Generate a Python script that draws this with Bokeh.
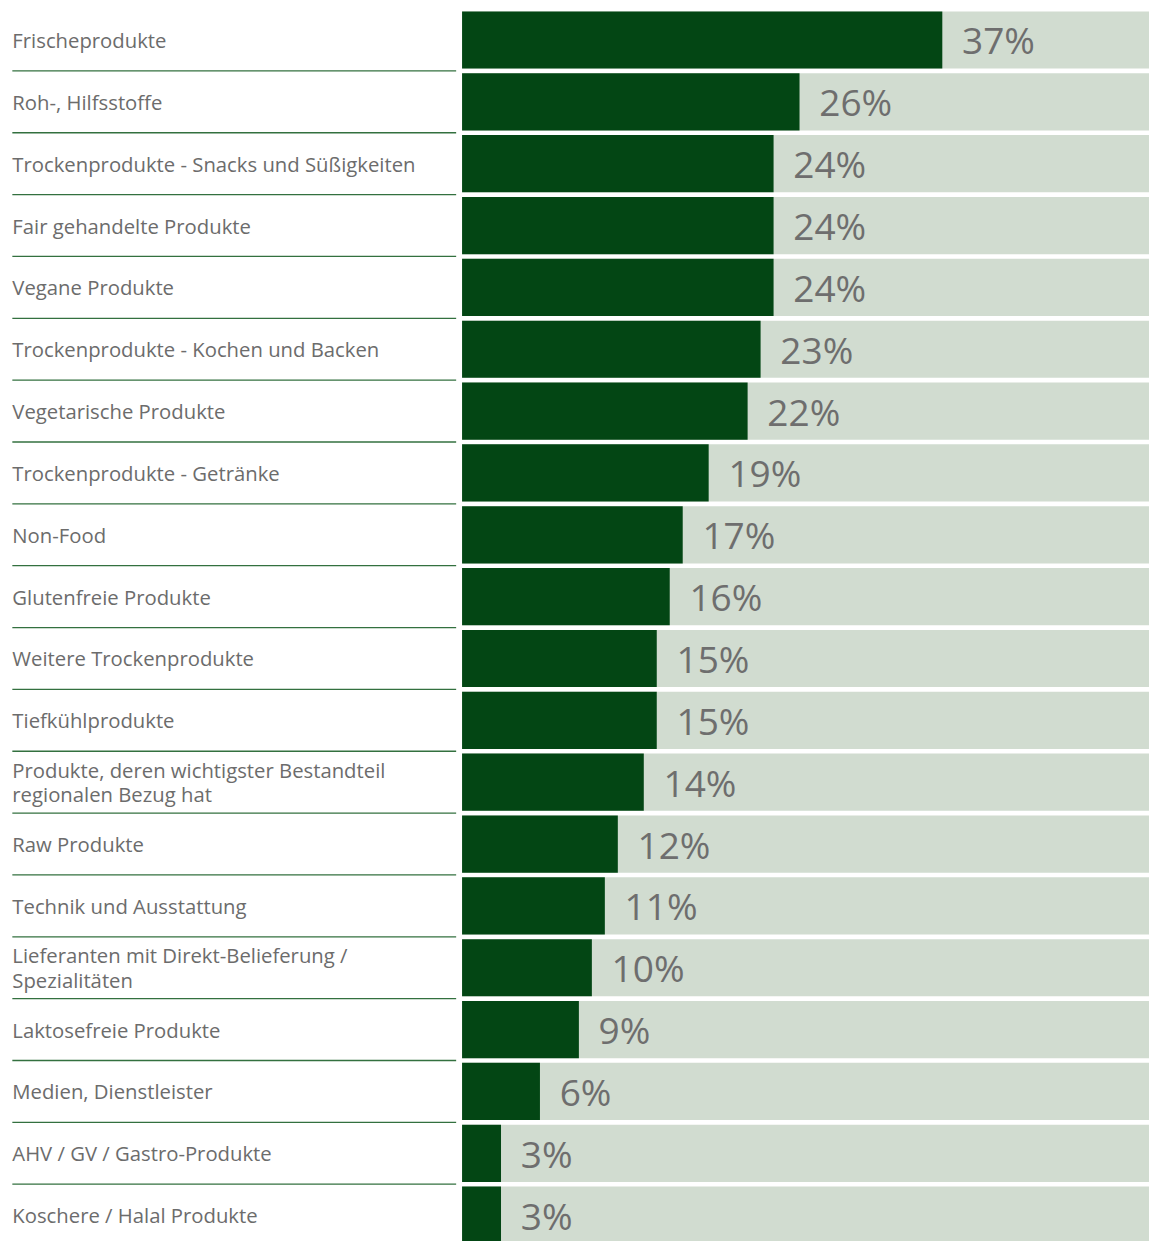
from bokeh.plotting import figure
from bokeh.models import Range1d, ColumnDataSource
from bokeh.core.properties import value
from bokeh.embed import file_html
from bokeh.resources import INLINE

categories = [
    "Frischeprodukte",
    "Roh-, Hilfsstoffe",
    "Trockenprodukte - Snacks und Süßigkeiten",
    "Fair gehandelte Produkte",
    "Vegane Produkte",
    "Trockenprodukte - Kochen und Backen",
    "Vegetarische Produkte",
    "Trockenprodukte - Getränke",
    "Non-Food",
    "Glutenfreie Produkte",
    "Weitere Trockenprodukte",
    "Tiefkühlprodukte",
    "Produkte, deren wichtigster Bestandteil\nregionalen Bezug hat",
    "Raw Produkte",
    "Technik und Ausstattung",
    "Lieferanten mit Direkt-Belieferung /\nSpezialitäten",
    "Laktosefreie Produkte",
    "Medien, Dienstleister",
    "AHV / GV / Gastro-Produkte",
    "Koschere / Halal Produkte",
]
values = [37, 26, 24, 24, 24, 23, 22, 19, 17, 16, 15, 15, 14, 12, 11, 10, 9, 6, 3, 3]
value_labels = [f"{v}%" for v in values]

W, H = 1149, 1241
SX = W / 1165
SY = H / 1257
PX_PER_PCT = 13.16 * SX
X0_PX = 468 * SX
x_start = -X0_PX / PX_PER_PCT
x_end = (W - X0_PX) / PX_PER_PCT
PITCH = 61.85
y_top = (11 + 29) * SY / PITCH
y_bottom = y_top - H / PITCH

n = len(categories)
ys = [-i for i in range(n)]

p = figure(width=W, height=H, output_backend="svg", toolbar_location=None,
           x_range=Range1d(x_start, x_end), y_range=Range1d(y_bottom, y_top),
           min_border=0, min_border_left=0, min_border_right=0,
           min_border_top=0, min_border_bottom=0)
p.axis.visible = False
p.grid.visible = False
p.outline_line_color = None
p.background_fill_color = "white"
p.border_fill_color = "white"

src = ColumnDataSource(dict(y=ys, v=values, lab=value_labels, cat=categories,
                            vx=[v + 20 * SX / PX_PER_PCT for v in values]))

bar_h = 57.2 / PITCH
p.hbar(y="y", left=0, right=x_end + 5, height=bar_h, source=src,
       fill_color="#d1dcd0", line_color=None)
p.hbar(y="y", left=0, right="v", height=bar_h, source=src,
       fill_color="#034614", line_color=None)

p.text(x="vx", y="y", text="lab", source=src, text_font=value("Open Sans"),
       text_font_size="37px", text_color="#6e6e6e", text_baseline="middle",
       text_align="left")

lab_x = x_start + 12 * SX / PX_PER_PCT
p.text(x=lab_x, y="y", text="cat", source=src, text_font=value("Open Sans"),
       text_font_size="20.3px", text_color="#6c6c6c", text_baseline="middle",
       text_align="left", text_line_height=0.88)

sep_y = [-i - 0.5 for i in range(n - 1)]
sep_src = ColumnDataSource(dict(y=sep_y))
p.segment(x0=x_start + 12 * SX / PX_PER_PCT, x1=x_start + 462 * SX / PX_PER_PCT,
          y0="y", y1="y", source=sep_src, line_color="#33703f", line_width=1.3)

open("out.html", "w").write(file_html(p, INLINE))
